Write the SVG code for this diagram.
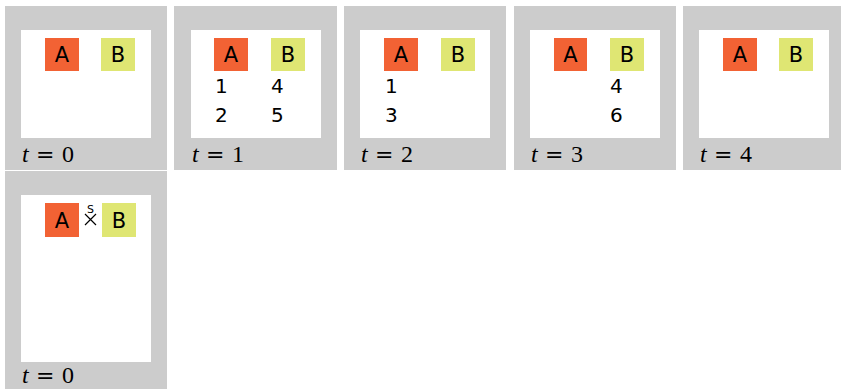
<svg xmlns="http://www.w3.org/2000/svg" width="841" height="389" viewBox="0 0 841 389">
<style>
.frame{fill:#cccccc}
.inner{fill:#ffffff}
.a{fill:#f26234}
.b{fill:#dfe673}
.lbl{font-family:"DejaVu Sans","Liberation Sans",sans-serif;font-size:21px;fill:#000;text-anchor:middle}
.num{font-family:"DejaVu Sans","Liberation Sans",sans-serif;font-size:20px;fill:#000}
.t{font-family:"Liberation Serif","DejaVu Serif",serif;font-size:24px;fill:#000}
.ti{font-style:italic}
.eq{font-family:"DejaVu Serif",serif;font-size:22px}
</style>
<rect width="841" height="389" fill="#ffffff"/>
<g id="panel-t0">
<rect class="frame" x="5" y="6" width="162" height="164"/>
<rect class="inner" x="21" y="30" width="130" height="108"/>
<rect class="a" x="45" y="38" width="34" height="33"/><text class="lbl" x="62" y="62">A</text>
<rect class="b" x="101" y="38" width="34" height="33"/><text class="lbl" x="118" y="62">B</text>
<text class="t" y="162"><tspan class="ti" x="22">t</tspan><tspan class="eq" x="36">=</tspan><tspan x="62">0</tspan></text>
</g>
<g id="panel-t1">
<rect class="frame" x="174" y="6" width="163" height="164"/>
<rect class="inner" x="191" y="30" width="130" height="108"/>
<rect class="a" x="214" y="38" width="34" height="33"/><text class="lbl" x="231" y="62">A</text>
<rect class="b" x="271" y="38" width="34" height="33"/><text class="lbl" x="288" y="62">B</text>
<text class="num" x="215" y="93">1</text><text class="num" x="215" y="122">2</text>
<text class="num" x="271" y="93">4</text><text class="num" x="271" y="122">5</text>
<text class="t" y="162"><tspan class="ti" x="192">t</tspan><tspan class="eq" x="206">=</tspan><tspan x="232">1</tspan></text>
</g>
<g id="panel-t2">
<rect class="frame" x="344" y="6" width="162" height="164"/>
<rect class="inner" x="360" y="30" width="130" height="108"/>
<rect class="a" x="384" y="38" width="34" height="33"/><text class="lbl" x="401" y="62">A</text>
<rect class="b" x="441" y="38" width="34" height="33"/><text class="lbl" x="458" y="62">B</text>
<text class="num" x="385" y="93">1</text><text class="num" x="385" y="122">3</text>
<text class="t" y="162"><tspan class="ti" x="361">t</tspan><tspan class="eq" x="375">=</tspan><tspan x="401">2</tspan></text>
</g>
<g id="panel-t3">
<rect class="frame" x="514" y="6" width="162" height="164"/>
<rect class="inner" x="530" y="30" width="130" height="108"/>
<rect class="a" x="554" y="38" width="33" height="33"/><text class="lbl" x="570.5" y="62">A</text>
<rect class="b" x="610" y="38" width="34" height="33"/><text class="lbl" x="627" y="62">B</text>
<text class="num" x="610" y="93">4</text><text class="num" x="610" y="122">6</text>
<text class="t" y="162"><tspan class="ti" x="531">t</tspan><tspan class="eq" x="545">=</tspan><tspan x="571">3</tspan></text>
</g>
<g id="panel-t4">
<rect class="frame" x="683" y="6" width="158" height="164"/>
<rect class="inner" x="699" y="30" width="130" height="108"/>
<rect class="a" x="723" y="38" width="34" height="33"/><text class="lbl" x="740" y="62">A</text>
<rect class="b" x="779" y="38" width="34" height="33"/><text class="lbl" x="796" y="62">B</text>
<text class="t" y="162"><tspan class="ti" x="700">t</tspan><tspan class="eq" x="714">=</tspan><tspan x="740">4</tspan></text>
</g>
<g id="panel-swap">
<rect class="frame" x="5" y="171" width="162" height="218"/>
<rect class="inner" x="21" y="195" width="130" height="167"/>
<rect class="a" x="45" y="203" width="34" height="34"/><text class="lbl" x="62" y="228">A</text>
<rect class="b" x="102" y="203" width="34" height="34"/><text class="lbl" x="119" y="228">B</text>
<text class="t" y="383"><tspan class="ti" x="22">t</tspan><tspan class="eq" x="36">=</tspan><tspan x="62">0</tspan></text>
</g>
<g id="connectors">
<text x="90.5" y="213" font-family="DejaVu Sans, sans-serif" font-size="11" text-anchor="middle">S</text>
<path d="M85 214 L96 225 M85 225 L96 214" stroke="#000" stroke-width="1.2" fill="none"/>
</g>
</svg>
